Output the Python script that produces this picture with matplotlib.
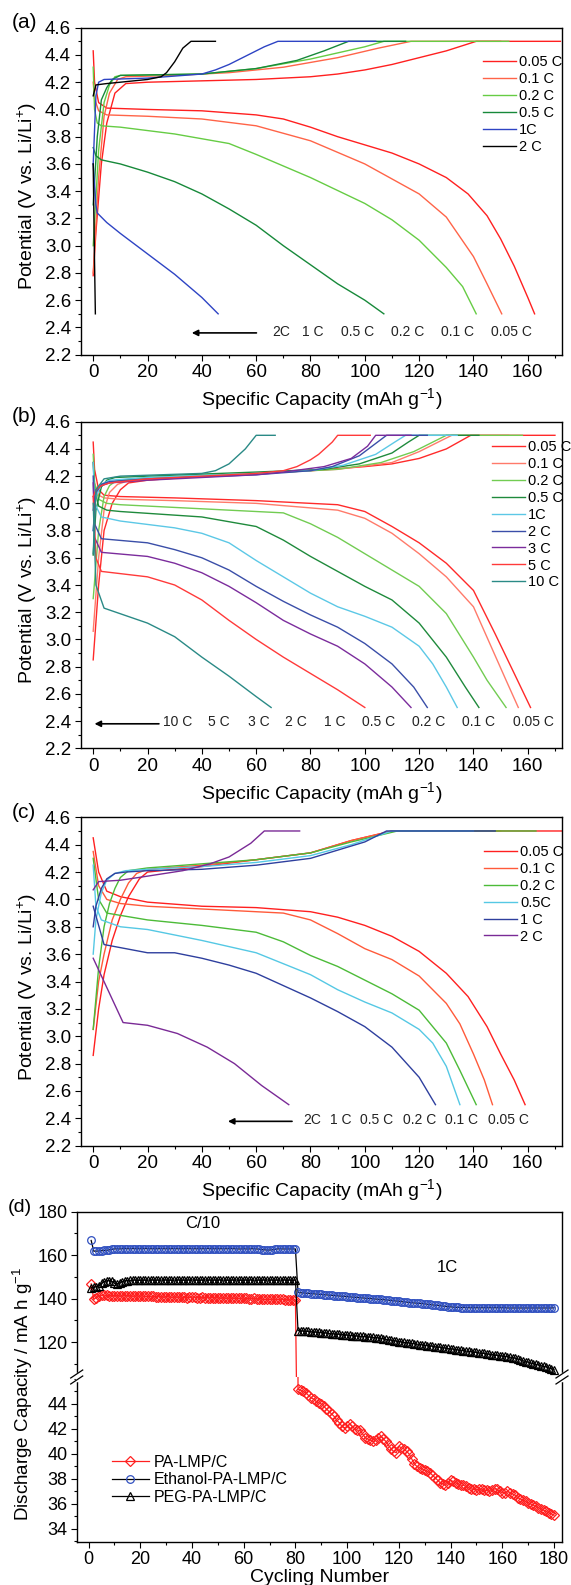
import numpy as np
import matplotlib
matplotlib.use('Agg')
import matplotlib.pyplot as plt
from matplotlib.ticker import MultipleLocator, FixedLocator

plt.rcParams['font.family'] = ['Liberation Sans', 'DejaVu Sans']
plt.rcParams['mathtext.default'] = 'regular'

# ---------------- panel (a) ----------------
a_rates = ["0.05 C", "0.1 C", "0.2 C", "0.5 C", "1C", "2 C"]
a_colors = ['#ff2020', '#ff6448', '#66cc44', '#17893a', '#2e44c4', '#000000']
a_ch_cap = [
    [0, 1, 3, 5, 8, 12, 20, 40, 60, 80, 90, 100, 110, 120, 130, 141, 172],
    [0, 2, 4, 6, 9, 12, 30, 50, 70, 90, 105, 117, 150],
    [0, 2, 4, 6, 8, 10, 40, 60, 80, 100, 107, 153],
    [0, 1.5, 3, 5, 7, 10, 40, 60, 75, 85, 94, 115],
    [0, 1, 2, 4, 20, 40, 45, 50, 55, 63, 68, 104],
    [0, 1, 5, 10, 20, 25, 27, 30, 33, 36, 45],
]
a_ch_v = [
    [2.78, 3.1, 3.6, 3.9, 4.12, 4.19, 4.2, 4.21, 4.22, 4.24, 4.26, 4.29, 4.33, 4.38, 4.43, 4.5, 4.5],
    [2.8, 3.5, 3.95, 4.12, 4.22, 4.24, 4.25, 4.27, 4.31, 4.38, 4.45, 4.5, 4.5],
    [3.0, 3.7, 4.05, 4.18, 4.24, 4.25, 4.26, 4.3, 4.37, 4.46, 4.5, 4.5],
    [3.3, 3.8, 4.07, 4.16, 4.22, 4.25, 4.26, 4.3, 4.36, 4.43, 4.5, 4.5],
    [3.6, 4.1, 4.2, 4.22, 4.23, 4.26, 4.29, 4.33, 4.38, 4.46, 4.5, 4.5],
    [4.1, 4.18, 4.19, 4.2, 4.22, 4.24, 4.27, 4.35, 4.45, 4.5, 4.5],
]
a_dis_cap = [
    [0, 0.5, 2, 5, 20, 40, 60, 70, 80, 90, 100, 110, 120, 130, 138, 145, 150, 155, 160, 162.5],
    [0, 0.5, 2, 5, 20, 40, 60, 80, 100, 120, 130, 140, 145, 150.4],
    [0, 0.5, 1.5, 3, 10, 30, 50, 60, 80, 100, 110, 120, 130, 136, 141],
    [0, 1, 3, 10, 20, 30, 40, 50, 60, 70, 80, 90, 100, 107],
    [0, 1, 1.5, 5, 10, 20, 30, 40, 46],
    [0, 0.4, 0.8],
]
a_dis_v = [
    [4.43, 4.2, 4.05, 4.01, 4.0, 3.99, 3.96, 3.93, 3.87, 3.8, 3.74, 3.68, 3.6, 3.5, 3.38, 3.22, 3.05, 2.85, 2.62, 2.5],
    [4.2, 4.08, 3.99, 3.96, 3.95, 3.93, 3.88, 3.77, 3.6, 3.38, 3.21, 2.92, 2.72, 2.5],
    [4.31, 4.0, 3.9, 3.88, 3.87, 3.82, 3.75, 3.67, 3.5, 3.31, 3.19, 3.04, 2.84, 2.7, 2.5],
    [3.72, 3.66, 3.63, 3.6, 3.54, 3.47, 3.38, 3.27, 3.15, 3.0, 2.86, 2.72, 2.6, 2.5],
    [3.6, 3.3, 3.24, 3.17, 3.09, 2.94, 2.79, 2.62, 2.5],
    [3.6, 3.0, 2.5],
]
a_note = ["2C", "1 C", "0.5 C", "0.2 C", "0.1 C", "0.05 C"]
a_note_x = [69.1, 80.7, 97.2, 115.6, 134.1, 154.1]

# ---------------- panel (b) ----------------
b_rates = ["0.05 C", "0.1 C", "0.2 C", "0.5 C", "1C", "2 C", "3 C", "5 C", "10 C"]
b_colors = ['#ff2a2a', '#ff7a6a', '#72cc52', '#1f8a3c', '#5cc8e6', '#3a4ea8', '#7b2c9c', '#ff3a3a', '#2a8a86']
b_ch_cap = [
    [0, 2, 4, 7, 10, 13, 20, 40, 60, 80, 100, 110, 120, 130, 139, 170],
    [0, 2, 4, 6, 9, 12, 20, 60, 90, 110, 120, 128, 132, 153],
    [0, 2, 4, 6, 8, 10, 20, 60, 90, 106, 118, 126, 130, 158],
    [0, 1, 3, 5, 8, 20, 60, 85, 98, 110, 116, 120, 142],
    [0, 1, 3, 6, 20, 60, 80, 92, 104, 111, 115, 134],
    [0, 1, 3, 6, 20, 60, 80, 88, 98, 104, 108, 123],
    [0, 1, 3, 6, 20, 60, 70, 85, 95, 101, 104, 117],
    [0, 1, 3, 6, 20, 60, 70, 75, 80, 83, 88, 90, 102],
    [0, 1, 4, 10, 40, 45, 50, 56, 60, 67],
]
b_ch_v = [
    [2.85, 3.4, 3.8, 4.0, 4.1, 4.15, 4.17, 4.2, 4.22, 4.24, 4.27, 4.29, 4.33, 4.4, 4.5, 4.5],
    [3.06, 3.6, 3.95, 4.08, 4.14, 4.16, 4.18, 4.22, 4.25, 4.3, 4.38, 4.46, 4.5, 4.5],
    [3.3, 3.8, 4.05, 4.13, 4.16, 4.17, 4.19, 4.22, 4.25, 4.3, 4.38, 4.46, 4.5, 4.5],
    [3.62, 3.95, 4.12, 4.17, 4.19, 4.2, 4.23, 4.25, 4.29, 4.37, 4.45, 4.5, 4.5],
    [3.8, 4.05, 4.14, 4.17, 4.19, 4.22, 4.24, 4.28, 4.36, 4.45, 4.5, 4.5],
    [3.8, 4.08, 4.14, 4.16, 4.18, 4.21, 4.24, 4.27, 4.35, 4.44, 4.5, 4.5],
    [3.95, 4.1, 4.13, 4.15, 4.17, 4.21, 4.23, 4.27, 4.33, 4.42, 4.5, 4.5],
    [4.05, 4.1, 4.13, 4.15, 4.18, 4.22, 4.24, 4.27, 4.32, 4.36, 4.45, 4.5, 4.5],
    [3.63, 4.1, 4.18, 4.2, 4.22, 4.24, 4.29, 4.4, 4.5, 4.5],
]
b_dis_cap = [
    [0, 0.5, 2, 4, 10, 30, 60, 90, 100, 110, 120, 130, 140, 148, 155, 161],
    [0, 0.5, 2, 4, 10, 30, 60, 90, 100, 110, 120, 130, 140, 146, 152, 156.5],
    [0, 0.5, 2, 5, 10, 40, 70, 80, 90, 100, 110, 120, 130, 140, 145, 152],
    [0, 0.5, 2, 5, 10, 40, 60, 70, 80, 90, 100, 110, 120, 130, 137, 142],
    [0, 0.5, 3, 10, 30, 40, 50, 60, 70, 80, 90, 100, 110, 120, 125, 130, 134],
    [0, 0.5, 3, 20, 30, 40, 50, 60, 70, 80, 90, 100, 110, 118, 123],
    [0, 0.5, 3, 20, 30, 40, 50, 60, 70, 80, 90, 100, 110, 117],
    [0, 1, 3, 20, 30, 40, 50, 60, 70, 80, 90, 100],
    [0, 1, 4, 20, 30, 40, 50, 60, 65.5],
]
b_dis_v = [
    [4.45, 4.25, 4.1, 4.06, 4.05, 4.04, 4.02, 3.99, 3.94, 3.83, 3.71, 3.56, 3.36, 3.04, 2.75, 2.5],
    [4.3, 4.15, 4.06, 4.04, 4.03, 4.02, 4.0, 3.95, 3.89, 3.78, 3.63, 3.46, 3.24, 2.97, 2.7, 2.5],
    [4.36, 4.15, 4.03, 4.0, 3.99, 3.96, 3.93, 3.85, 3.75, 3.63, 3.51, 3.39, 3.19, 2.87, 2.7, 2.5],
    [4.3, 4.1, 3.98, 3.95, 3.94, 3.9, 3.83, 3.73, 3.61, 3.5, 3.39, 3.29, 3.12, 2.87, 2.65, 2.5],
    [4.3, 4.0, 3.9, 3.87, 3.82, 3.78, 3.71, 3.58, 3.46, 3.34, 3.24, 3.17, 3.09, 2.95, 2.82, 2.65, 2.5],
    [4.2, 3.85, 3.74, 3.71, 3.66, 3.6, 3.51, 3.39, 3.28, 3.18, 3.09, 2.97, 2.82, 2.65, 2.5],
    [4.15, 3.75, 3.64, 3.61, 3.56, 3.49, 3.39, 3.27, 3.14, 3.04, 2.95, 2.82, 2.65, 2.5],
    [4.05, 3.6, 3.5, 3.46, 3.4, 3.29, 3.14, 3.0, 2.87, 2.75, 2.63, 2.5],
    [4.0, 3.4, 3.23, 3.12, 3.02, 2.87, 2.73, 2.58, 2.5],
]
b_note = ["10 C", "5 C", "3 C", "2 C", "1 C", "0.5 C", "0.2 C", "0.1 C", "0.05 C"]
b_note_x = [31.1, 46.4, 60.8, 74.8, 88.8, 105.0, 123.5, 142.0, 161.9]

# ---------------- panel (c) ----------------
c_rates = ["0.05 C", "0.1 C", "0.2 C", "0.5C", "1 C", "2 C"]
c_colors = ['#ff2020', '#ff5a3a', '#4cbb38', '#55c8e4', '#2e3f9e', '#7a2a96']
c_ch_cap = [
    [0, 2, 4, 7, 10, 13, 17, 20, 40, 60, 80, 95, 110, 175],
    [0, 2, 4, 7, 10, 13, 16, 20, 40, 60, 80, 95, 110, 150],
    [0, 2, 4, 6, 8, 10, 13, 20, 40, 60, 80, 95, 112, 163],
    [0, 1, 3, 5, 8, 12, 20, 40, 60, 80, 95, 110, 140],
    [0, 1, 3, 5, 8, 12, 20, 40, 60, 80, 100, 108, 148],
    [0, 2, 10, 20, 33, 43, 50, 58, 63, 76],
]
c_ch_v = [
    [2.86, 3.2, 3.45, 3.7, 3.88, 4.02, 4.15, 4.2, 4.24, 4.29, 4.34, 4.43, 4.5, 4.5],
    [3.05, 3.4, 3.6, 3.85, 4.0, 4.12, 4.19, 4.22, 4.25, 4.29, 4.34, 4.43, 4.5, 4.5],
    [3.05, 3.5, 3.8, 3.97, 4.08, 4.16, 4.21, 4.23, 4.26, 4.29, 4.34, 4.42, 4.5, 4.5],
    [3.6, 3.85, 4.05, 4.14, 4.19, 4.21, 4.22, 4.24, 4.27, 4.32, 4.4, 4.5, 4.5],
    [3.8, 3.95, 4.08, 4.15, 4.19, 4.2, 4.21, 4.22, 4.25, 4.3, 4.42, 4.5, 4.5],
    [4.07, 4.13, 4.14, 4.17, 4.21, 4.26, 4.31, 4.41, 4.5, 4.5],
]
c_dis_cap = [
    [0, 2, 5, 10, 20, 40, 60, 80, 90, 100, 110, 120, 130, 138, 145, 150, 155, 159],
    [0, 2, 5, 10, 20, 40, 60, 70, 80, 90, 100, 110, 120, 130, 135, 140, 144, 147],
    [0, 2, 5, 20, 40, 60, 70, 80, 90, 100, 110, 120, 130, 135, 141],
    [0, 1, 3, 10, 20, 40, 60, 70, 80, 90, 100, 110, 120, 125, 130, 135],
    [0, 4, 20, 30, 40, 50, 60, 70, 80, 90, 100, 110, 120, 126],
    [0, 11, 20, 31, 42, 52, 62, 72],
]
c_dis_v = [
    [4.45, 4.2, 4.06, 4.02, 3.98, 3.95, 3.94, 3.91, 3.87, 3.81, 3.73, 3.62, 3.46, 3.29, 3.07, 2.87, 2.68, 2.5],
    [4.35, 4.1, 4.0, 3.97, 3.95, 3.93, 3.91, 3.9, 3.85, 3.75, 3.64, 3.56, 3.44, 3.24, 3.09, 2.87, 2.68, 2.5],
    [4.3, 4.0, 3.9, 3.85, 3.81, 3.76, 3.69, 3.59, 3.51, 3.41, 3.31, 3.19, 2.95, 2.75, 2.5],
    [4.25, 3.95, 3.85, 3.8, 3.78, 3.7, 3.61, 3.53, 3.45, 3.34, 3.25, 3.17, 3.05, 2.95, 2.78, 2.5],
    [3.95, 3.67, 3.61, 3.61, 3.57, 3.52, 3.46, 3.37, 3.28, 3.18, 3.07, 2.92, 2.7, 2.5],
    [3.57, 3.1, 3.08, 3.02, 2.92, 2.8, 2.64, 2.5],
]
c_note = ["2C", "1 C", "0.5 C", "0.2 C", "0.1 C", "0.05 C"]
c_note_x = [80.7, 91.1, 104.5, 120.0, 135.6, 152.7]

# ---------------- panel (d) ----------------
cycles = np.arange(1, 181)
pa_cap = [
    146.8, 139.6, 140.5, 141.2, 141.5, 141.6, 141.5, 141.4, 141.3, 141.4,
    141.4, 141.3, 141.2, 141.3, 141.4, 141.3, 141.2, 141.2, 141.1, 141.2,
    141.1, 141.0, 141.0, 141.1, 141.0, 140.9, 140.9, 140.8, 140.8, 140.9,
    140.8, 140.7, 140.7, 140.8, 140.7, 140.6, 140.6, 140.5, 140.6, 140.7,
    140.6, 140.5, 140.5, 140.6, 140.5, 140.4, 140.4, 140.5, 140.4, 140.3,
    140.3, 140.4, 140.3, 140.2, 140.2, 140.3, 140.2, 140.1, 140.1, 140.2,
    140.1, 140.0, 140.0, 140.1, 140.0, 139.9, 139.7, 139.6, 139.6, 139.7,
    139.7, 139.6, 139.6, 139.7, 139.6, 139.5, 139.5, 139.4, 139.4, 139.3,
    45.2, 45.1, 45.0, 44.9, 44.7, 44.5, 44.4, 44.2, 44.1, 44.0,
    43.8, 43.6, 43.4, 43.2, 43.0, 42.7, 42.5, 42.2, 42.1, 42.2,
    42.4, 42.2, 42.0, 41.9, 41.9, 41.6, 41.3, 41.2, 41.1, 41.0,
    41.1, 41.3, 41.4, 41.2, 41.0, 40.7, 40.4, 40.2, 40.1, 40.6,
    40.5, 40.4, 40.2, 40.0, 39.6, 39.2, 39.0, 38.9, 38.8, 38.7,
    38.6, 38.5, 38.3, 38.1, 37.9, 37.7, 37.6, 37.5, 37.7, 37.9,
    37.8, 37.7, 37.6, 37.5, 37.5, 37.4, 37.3, 37.2, 37.2, 37.1,
    37.2, 37.2, 37.1, 37.1, 37.0, 37.1, 37.2, 37.2, 37.0, 36.9,
    36.9, 37.0, 36.9, 36.8, 36.7, 36.5, 36.4, 36.3, 36.2, 36.1,
    36.0, 35.9, 35.8, 35.7, 35.6, 35.5, 35.4, 35.3, 35.2, 35.1,
]
eth_cap = [
    166.7, 161.8, 161.8, 161.9, 162.0, 162.1, 162.2, 162.4, 162.6, 162.8,
    162.9, 162.8, 162.9, 163.0, 162.9, 162.9, 163.0, 162.9, 162.9, 162.9,
    162.9, 163.0, 162.9, 162.9, 162.9, 162.9, 162.9, 163.0, 162.9, 162.9,
    162.9, 162.9, 163.0, 162.9, 162.9, 162.9, 162.9, 163.0, 162.9, 162.9,
    162.9, 162.9, 162.9, 162.9, 162.9, 163.0, 162.9, 162.9, 162.9, 162.9,
    162.9, 162.9, 162.9, 162.9, 163.0, 162.9, 162.9, 162.8, 162.8, 162.9,
    162.8, 162.8, 162.9, 162.9, 162.8, 162.7, 162.5, 162.4, 162.3, 162.3,
    162.4, 162.6, 162.8, 162.9, 162.8, 162.8, 162.8, 162.8, 162.8, 162.8,
    142.9, 142.7, 142.6, 142.5, 142.4, 142.3, 142.2, 142.1, 142.0, 141.9,
    141.8, 141.7, 141.6, 141.5, 141.4, 141.3, 141.2, 141.1, 141.0, 140.9,
    140.8, 140.7, 140.6, 140.5, 140.4, 140.3, 140.2, 140.1, 140.0, 139.9,
    139.8, 139.7, 139.6, 139.5, 139.4, 139.3, 139.1, 139.0, 138.9, 138.8,
    138.6, 138.5, 138.4, 138.2, 138.1, 138.0, 137.9, 137.8, 137.7, 137.6,
    137.4, 137.3, 137.1, 137.0, 136.9, 136.7, 136.6, 136.4, 136.3, 136.2,
    136.1, 136.0, 136.0, 135.9, 135.9, 135.9, 135.8, 135.8, 135.8, 135.8,
    135.8, 135.8, 135.8, 135.8, 135.8, 135.8, 135.8, 135.8, 135.8, 135.8,
    135.8, 135.7, 135.7, 135.7, 135.7, 135.7, 135.7, 135.7, 135.7, 135.7,
    135.7, 135.7, 135.7, 135.7, 135.7, 135.7, 135.7, 135.7, 135.7, 135.8,
]
peg_cap = [
    145.0, 145.2, 145.5, 146.0, 147.0, 147.8, 148.2, 148.3, 148.0, 147.0,
    146.8, 147.2, 147.8, 148.2, 148.3, 148.4, 148.4, 148.5, 148.4, 148.4,
    148.5, 148.4, 148.5, 148.6, 148.5, 148.4, 148.5, 148.5, 148.6, 148.5,
    148.5, 148.4, 148.5, 148.6, 148.5, 148.5, 148.4, 148.5, 148.5, 148.6,
    148.5, 148.5, 148.4, 148.5, 148.6, 148.5, 148.5, 148.4, 148.5, 148.5,
    148.6, 148.5, 148.5, 148.4, 148.5, 148.5, 148.6, 148.5, 148.4, 148.5,
    148.5, 148.5, 148.6, 148.5, 148.4, 148.5, 148.5, 148.5, 148.6, 148.5,
    148.5, 148.4, 148.5, 148.5, 148.6, 148.5, 148.5, 148.5, 148.4, 148.5,
    125.3, 125.2, 125.1, 125.0, 124.9, 124.8, 124.7, 124.6, 124.5, 124.4,
    124.3, 124.2, 124.0, 123.9, 123.8, 123.7, 123.6, 123.5, 123.4, 123.2,
    123.1, 123.0, 122.9, 122.8, 122.7, 122.6, 122.5, 122.4, 122.3, 122.2,
    122.1, 122.0, 121.8, 121.5, 121.3, 121.1, 120.9, 120.7, 120.5, 120.3,
    120.1, 119.9, 119.8, 119.6, 119.4, 119.3, 119.1, 118.9, 118.8, 118.6,
    118.4, 118.3, 118.1, 117.9, 117.8, 117.6, 117.4, 117.3, 117.1, 116.9,
    116.8, 116.6, 116.4, 116.3, 116.1, 115.9, 115.8, 115.6, 115.4, 115.3,
    115.1, 114.9, 114.8, 114.6, 114.4, 114.3, 114.1, 113.9, 113.8, 113.6,
    113.5, 113.3, 113.1, 112.9, 112.6, 112.3, 111.9, 111.5, 111.1, 110.8,
    110.4, 110.1, 109.8, 109.5, 109.2, 108.9, 108.6, 108.2, 107.8, 107.4,
]

W, H = 571, 1585
fig = plt.figure(figsize=(W / 100, H / 100), dpi=100)


def px_axes(left, top, right, bottom):
    return fig.add_axes([left / W, 1 - bottom / H, (right - left) / W, (bottom - top) / H])


def style_ticks(ax, size=13.5, pad=2.5):
    ax.tick_params(which='major', direction='out', length=4.5, width=0.8, labelsize=size, pad=pad)
    ax.tick_params(which='minor', direction='out', length=2.5, width=0.8)
    for s in ax.spines.values():
        s.set_linewidth(1.0)


def voltage_panel(top, bottom, tag, rates, colors, ch_cap, ch_v, dis_cap, dis_v,
                  leg_xy, note, note_x, note_y, arrow_x):
    ax = px_axes(80.7, top, 562.3, bottom)
    for i, r in enumerate(rates):
        ax.plot(ch_cap[i], ch_v[i], color=colors[i], lw=1.0, label=r)
        ax.plot(dis_cap[i], dis_v[i], color=colors[i], lw=1.0)
    ax.set_xlim(-4.6, 172.7)
    ax.set_ylim(2.2, 4.6)
    ax.xaxis.set_major_locator(MultipleLocator(20))
    ax.xaxis.set_minor_locator(MultipleLocator(10))
    ax.yaxis.set_major_locator(MultipleLocator(0.2))
    ax.yaxis.set_minor_locator(MultipleLocator(0.1))
    style_ticks(ax)
    ax.set_xlabel('Specific Capacity (mAh g$^{-1}$)', fontsize=14, labelpad=3.5)
    fig.text(27 / W, 1 - ((top + bottom) / 2 + 5) / H, 'Potential (V vs. Li/Li$^{+}$)',
             rotation=90, ha='center', va='center', fontsize=14)
    fig.text(12 / W, 1 - (top - 5) / H, tag, ha='left', va='center', fontsize=15)
    ax.legend(loc='upper left', bbox_to_anchor=leg_xy, frameon=False, fontsize=10.5,
              borderpad=0, handlelength=2.3, handletextpad=0.2, labelspacing=0.2)
    for t, x in zip(note, note_x):
        ax.text(x, note_y, t, ha='center', va='center', fontsize=10, color='#222222')
    ax.annotate('', xy=(arrow_x[1], note_y - 0.01), xytext=(arrow_x[0], note_y - 0.01),
                arrowprops=dict(arrowstyle='-|>', color='black', lw=1.2,
                                mutation_scale=9, shrinkA=0, shrinkB=0))
    return ax


voltage_panel(27.7, 354.7, '(a)', a_rates, a_colors, a_ch_cap, a_ch_v, a_dis_cap, a_dis_v,
              (0.8195, 0.938), a_note, a_note_x, 2.37, (60.1, 36.3))
voltage_panel(421.7, 748.3, '(b)', b_rates, b_colors, b_ch_cap, b_ch_v, b_dis_cap, b_dis_v,
              (0.8387, 0.966), b_note, b_note_x, 2.39, (24.2, 0.5))
voltage_panel(817.3, 1145.7, '(c)', c_rates, c_colors, c_ch_cap, c_ch_v, c_dis_cap, c_dis_v,
              (0.8218, 0.938), c_note, c_note_x, 2.388, (73.2, 49.6))

# ---------------- panel (d), broken y axis ----------------
ax_hi = px_axes(76.7, 1211.5, 562, 1377)
ax_lo = px_axes(76.7, 1377, 562, 1541.7)

series = [
    (pa_cap, 'D', '#ff2020', '#ff2020', 'PA-LMP/C'),
    (eth_cap, 'o', '#3050c0', 'black', 'Ethanol-PA-LMP/C'),
    (peg_cap, '^', 'black', 'black', 'PEG-PA-LMP/C'),
]
for vals, mk, mc, lc, lab in series:
    for ax in (ax_hi, ax_lo):
        ax.plot(cycles, vals, color=lc, lw=0.9, marker=mk, ms=5.5 if mk != 'D' else 5,
                mfc='none', mec=mc, mew=0.9, label=lab)

ax_hi.set_ylim(104, 180)
ax_lo.set_ylim(32.98, 46.16)
for ax in (ax_hi, ax_lo):
    ax.set_xlim(-4.6, 183.1)
    ax.xaxis.set_major_locator(MultipleLocator(20))
    ax.xaxis.set_minor_locator(MultipleLocator(10))
    style_ticks(ax, size=13, pad=2)
ax_hi.yaxis.set_major_locator(MultipleLocator(20))
ax_hi.yaxis.set_minor_locator(MultipleLocator(10))
ax_lo.yaxis.set_major_locator(FixedLocator([34, 36, 38, 40, 42, 44]))
ax_lo.yaxis.set_minor_locator(MultipleLocator(1))
ax_hi.spines['bottom'].set_visible(False)
ax_lo.spines['top'].set_visible(False)
ax_hi.tick_params(axis='x', which='both', bottom=False, labelbottom=False)

ax_hi.text(44, 174.6, 'C/10', ha='center', va='center', fontsize=12)
ax_hi.text(138.7, 154.4, '1C', ha='center', va='center', fontsize=12)
ax_lo.set_xlabel('Cycling Number', fontsize=14, labelpad=1)
fig.text(23 / W, 1 - 1394 / H, 'Discharge Capacity / mA h g$^{-1}$',
         rotation=90, ha='center', va='center', fontsize=13.5)
fig.text(8 / W, 1 - 1207 / H, '(d)', ha='left', va='center', fontsize=14)

ax_lo.legend(loc='upper left', bbox_to_anchor=(0.056, 0.575), frameon=False, fontsize=11.5,
             borderpad=0, handlelength=2.3, handletextpad=0.35, labelspacing=0.15)

# break marks on both side spines
for xb in (76.7, 562):
    yb = 1377
    fig.add_artist(plt.Line2D([xb / W, xb / W], [1 - (yb - 3) / H, 1 - (yb + 3) / H],
                              color='white', lw=2.5))
    for dy in (-3, 3):
        fig.add_artist(plt.Line2D([(xb - 6) / W, (xb + 6) / W],
                                  [1 - (yb + dy + 4) / H, 1 - (yb + dy - 4) / H],
                                  color='black', lw=0.9))

fig.savefig('out.png', dpi=100)
